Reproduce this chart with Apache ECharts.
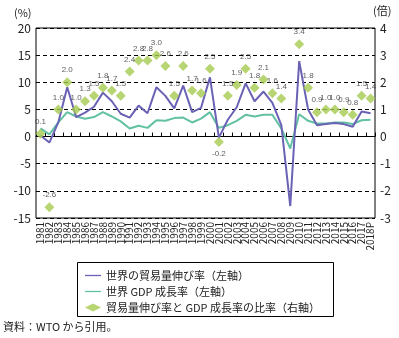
<!DOCTYPE html>
<html><head><meta charset="utf-8">
<script src="https://cdn.jsdelivr.net/npm/echarts@6/dist/echarts.min.js"></script>
<style>html,body{margin:0;padding:0;background:#fff}#c{width:399px;height:338px}</style>
</head><body><div id="c"></div>
<script>
const years = ['1981','1982','1983','1984','1985','1986','1987','1988','1989','1990','1991','1992','1993','1994','1995','1996','1997','1998','1999','2000','2001','2002','2003','2004','2005','2006','2007','2008','2009','2010','2011','2012','2013','2014','2015','2016','2017','2018P'];
const tradeGrowth = [0.2,-1.1,2.6,9.1,3.6,4.4,5.5,8.1,6.5,4.2,3.5,5.7,4.3,9.1,7.5,5.2,9.4,4.5,5.3,10.9,-0.2,3.1,5.4,9.8,6.5,8.3,6.2,2.1,-12.8,13.9,5.0,2.1,2.3,2.5,2.3,1.8,4.6,4.3];
const gdpGrowth = [1.5,0.4,2.6,4.5,3.7,3.3,3.6,4.5,3.7,2.8,1.5,2.0,1.6,3.0,2.9,3.4,3.5,2.6,3.3,4.5,1.6,2.1,2.9,4.0,3.7,4.0,4.0,1.5,-2.2,4.1,2.9,2.4,2.4,2.6,2.6,2.3,3.0,3.1];
const ratio = [0.1,-2.6,1.0,2.0,1.0,1.3,1.5,1.8,1.7,1.5,2.4,2.8,2.8,3.0,2.6,1.5,2.6,1.7,1.6,2.5,-0.2,1.5,1.9,2.5,1.8,2.1,1.6,1.4,null,3.4,1.8,0.9,1.0,1.0,0.9,0.8,1.5,1.4];
const leftTicks = {min:-15, max:20, interval:5};
const rightTicks = {min:-3, max:4, interval:1};
const names = ['世界の貿易量伸び率（左軸）','世界 GDP 成長率（左軸）','貿易量伸び率と GDP 成長率の比率（右軸）'];

const font = '"Noto Sans CJK JP", "Noto Sans", sans-serif';
const chart = echarts.init(document.getElementById('c'), null, {renderer:'canvas'});
const ratioData = ratio.map((v,i)=>{
  if (v === null) return '-';
  if (v < -0.1 && v > -1) return {value:v, label:{position:'bottom'}};
  return v;
});
const lineIcon = 'path://M0,0L16,0L16,1.3L0,1.3Z';
chart.setOption({
  animation:false,
  textStyle:{fontFamily:font},
  grid:{left:36, right:24, top:28, bottom:120, show:true, borderColor:'#000', borderWidth:1},
  legend:{
    orient:'vertical', left:80, top:265, itemWidth:16, itemHeight:8, itemGap:5,
    textStyle:{fontSize:11, color:'#222', fontFamily:font},
    data:[{name:names[0], icon:lineIcon},{name:names[1], icon:lineIcon},{name:names[2], icon:'diamond'}]
  },
  graphic:[
    {type:'rect', shape:{x:77.5, y:262.5, width:256, height:54}, style:{fill:'none', stroke:'#000', lineWidth:1}, silent:true},
    {type:'text', left:14, top:7, style:{text:'(%)', fontSize:11, fill:'#222', fontFamily:font}},
    {type:'text', left:373, top:5, style:{text:'(倍)', fontSize:11, fill:'#222', fontFamily:font}},
    {type:'text', left:3, top:321, style:{text:'資料：WTO から引用。', fontSize:11, fill:'#222', fontFamily:font}}
  ],
  xAxis:[
    {type:'category', data:years, position:'bottom', boundaryGap:true,
     axisLine:{show:false}, axisTick:{show:false},
     axisLabel:{rotate:90, fontSize:10, color:'#222', margin:4, interval:0, fontFamily:font}},
    {type:'category', data:years, position:'top', boundaryGap:true,
     axisLine:{show:true, onZero:true, onZeroAxisIndex:0, lineStyle:{color:'#000', width:1}},
     axisTick:{show:true, inside:false, length:4, interval:0, lineStyle:{color:'#000'}},
     axisLabel:{show:false}, splitLine:{show:false}}
  ],
  yAxis:[
    {type:'value', min:leftTicks.min, max:leftTicks.max, interval:leftTicks.interval, position:'left',
     axisLine:{show:false}, axisTick:{show:false},
     axisLabel:{fontSize:12, color:'#222', margin:5, fontFamily:font},
     splitLine:{show:true, lineStyle:{color:'#000', type:[4,3], width:1}}},
    {type:'value', min:rightTicks.min, max:rightTicks.max, interval:rightTicks.interval, position:'right',
     axisLine:{show:false}, axisTick:{show:false},
     axisLabel:{fontSize:12, color:'#222', margin:5, fontFamily:font},
     splitLine:{show:false}}
  ],
  series:[
    {name:names[0], type:'line', data:tradeGrowth, symbol:'none', xAxisIndex:0, yAxisIndex:0,
     lineStyle:{color:'#6a62b4', width:2}, itemStyle:{color:'#6a62b4'}, z:3},
    {name:names[1], type:'line', data:gdpGrowth, symbol:'none', xAxisIndex:0, yAxisIndex:0,
     lineStyle:{color:'#62c1a3', width:2}, itemStyle:{color:'#62c1a3'}, z:2},
    {name:names[2], type:'scatter', data:ratioData, xAxisIndex:0, yAxisIndex:1,
     symbol:'diamond', symbolSize:10, itemStyle:{color:'#a6ca50'}, z:4,
     label:{show:true, position:'top', distance:3, fontSize:8, color:'#333', fontFamily:'"Liberation Sans Narrow", "Liberation Sans", sans-serif',
       formatter:p=>Number(p.value).toFixed(1)}}
  ]
});
</script></body></html>
